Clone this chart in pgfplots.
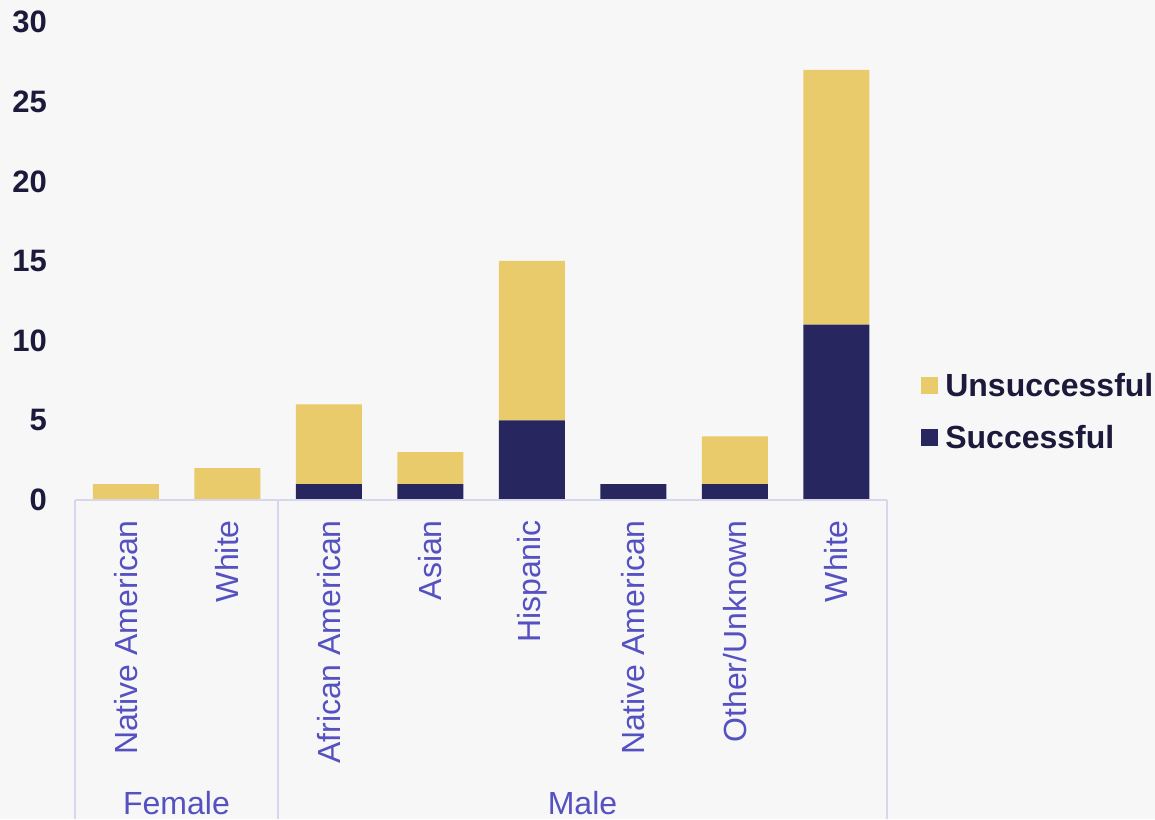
\documentclass[border=0pt]{standalone}
\usepackage{pgfplots}
\pgfplotsset{compat=1.18}
\usepackage{fontspec}
\setmainfont{Liberation Sans}
\definecolor{gold}{HTML}{E9CB6B}
\definecolor{navy}{HTML}{28265F}
\definecolor{labblue}{HTML}{5551C1}
\definecolor{darktxt}{HTML}{1C1A3B}
\definecolor{gridl}{HTML}{D8D5EE}
\definecolor{bg}{HTML}{F7F7F7}
\begin{document}
\begin{tikzpicture}[x=1pt,y=1pt]
\fill[bg] (0,0) rectangle (1155,819);
\useasboundingbox (0,0) rectangle (1155,819);
\begin{axis}[
  at={(75pt,319pt)}, anchor=south west,
  scale only axis, width=812pt, height=478pt,
  xmin=-0.5, xmax=7.5, ymin=0, ymax=30,
  ybar stacked, bar width=66pt,
  axis line style={draw=none}, tick style={draw=none},
  major tick length=0pt,
  xtick={0,...,7},
  xticklabels={Native American,White,African American,Asian,Hispanic,Native American,Other/Unknown,White},
  xticklabel style={rotate=90, anchor=east, inner sep=0pt, xshift=-20pt, font=\fontsize{32}{38}\selectfont, text=labblue},
  ytick={0,5,...,30},
  yticklabel style={anchor=east, inner sep=0pt, xshift=-28pt, font=\fontsize{31}{36}\selectfont\bfseries, text=darktxt},
  /pgf/number format/assume math mode=true,
  clip=false,
  reverse legend,
  legend cell align=left,
  legend style={at={(1.042,0.185)}, anchor=west, draw=none, fill=none, inner sep=0pt,
    font=\fontsize{32}{38}\selectfont\bfseries, text=darktxt, row sep=23pt},
  legend image code/.code={\fill[#1,draw=none] (0pt,-8.5pt) rectangle (17pt,8.5pt);\path (22pt,0pt);},
]
\addplot[fill=navy, draw=none] coordinates {(0,0) (1,0) (2,1) (3,1) (4,5) (5,1) (6,1) (7,11)};
\addlegendentry{Successful}
\addplot[fill=gold, draw=none] coordinates {(0,1) (1,2) (2,5) (3,2) (4,10) (5,0) (6,3) (7,16)};
\addlegendentry{Unsuccessful}
\end{axis}
\draw[gridl, line width=1.5pt] (75,319) -- (887,319);
\draw[gridl, line width=1.5pt] (75,319) -- (75,0);
\draw[gridl, line width=1.5pt] (278,319) -- (278,0);
\draw[gridl, line width=1.5pt] (887,319) -- (887,0);
\node[text=labblue, font=\fontsize{32}{38}\selectfont] at (176.5,16) {Female};
\node[text=labblue, font=\fontsize{32}{38}\selectfont] at (582.5,16) {Male};
\end{tikzpicture}
\end{document}
